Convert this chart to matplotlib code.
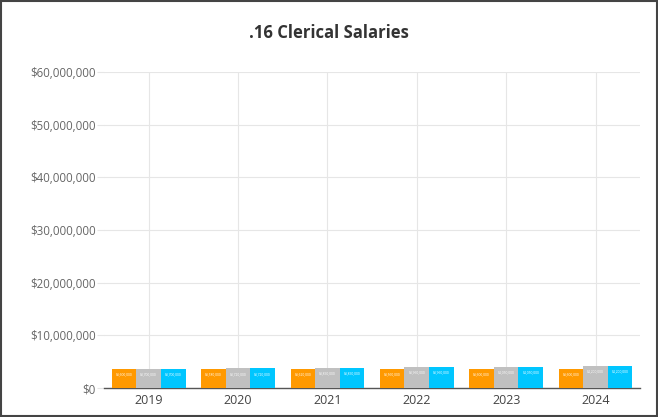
import numpy as np
from matplotlib import pyplot as plt
from matplotlib.patches import Rectangle

# data
years = ["2019", "2020", "2021", "2022", "2023", "2024"]
orange_vals = [3600000, 3580000, 3620000, 3560000, 3600000, 3600000]
grey_vals = [3700000, 3720000, 3850000, 3950000, 4050000, 4200000]
blue_vals = [3700000, 3720000, 3850000, 3950000, 4050000, 4200000]
yticks = [0, 10000000, 20000000, 30000000, 40000000, 50000000, 60000000]

plt.rcParams['font.family'] = ['Open Sans', 'DejaVu Sans']

fig = plt.figure(figsize=(6.58, 4.17), dpi=100)
ax = fig.add_axes([0.158, 0.0695, 0.815, 0.758])

x = np.arange(len(years))
w = 0.275
series = [(orange_vals, "#ff9900", -w), (grey_vals, "#c0c0c0", 0), (blue_vals, "#00c6ff", w)]
for vals, col, off in series:
    bars = ax.bar(x + off, vals, w, color=col, zorder=3)
    for b, v in zip(bars, vals):
        ax.text(b.get_x() + b.get_width() / 2, v - 600000, "${:,.0f}".format(v),
                ha="center", va="top", fontsize=2.4, color="white", zorder=4)

ax.set_xlim(-0.5, 5.5)
ax.set_ylim(0, 60000000)
ax.set_xticks(x)
ax.set_xticklabels(years, fontsize=9, color="#444444")
ax.set_yticks(yticks)
ax.set_yticklabels(["${:,.0f}".format(t) for t in yticks], fontsize=8.3, color="#666666")
ax.grid(True, color="#e6e6e6", linewidth=0.8, zorder=0)
for s in ["top", "right", "left"]:
    ax.spines[s].set_visible(False)
ax.spines["bottom"].set_color("#555555")
ax.spines["bottom"].set_linewidth(1.0)
ax.tick_params(axis="x", length=0, pad=4)
ax.tick_params(axis="y", length=5, color="#e6e6e6", pad=1)

fig.text(0.5, 0.922, ".16 Clerical Salaries", ha="center", va="center",
         fontsize=12, fontweight="bold", color="#333333")

fig.patches.append(Rectangle((0.001, 0.002), 0.997, 0.996, transform=fig.transFigure,
                             fill=False, edgecolor="#444444", linewidth=1.5))

fig.savefig("out.png", dpi=100)
